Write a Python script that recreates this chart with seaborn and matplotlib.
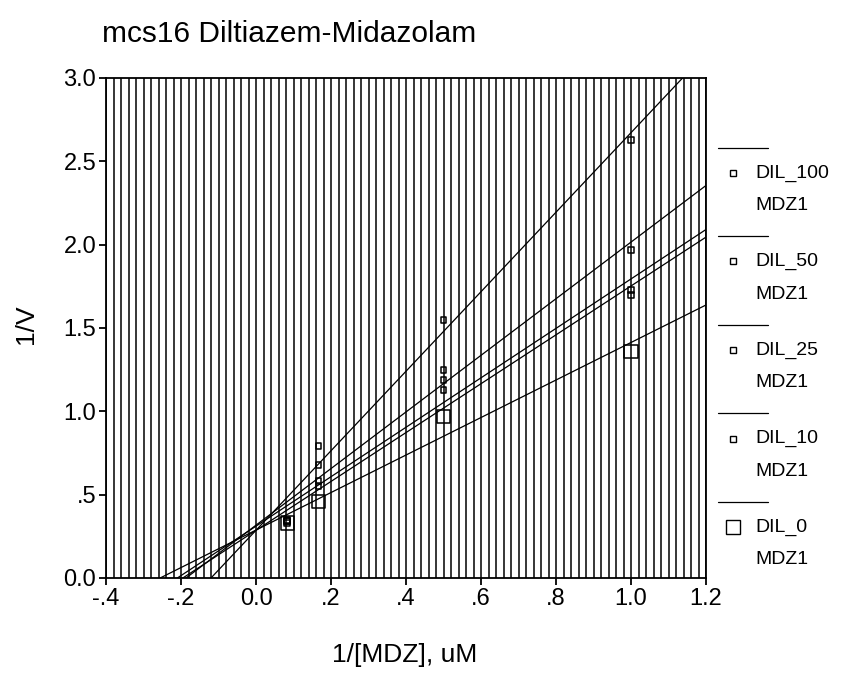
import numpy as np
import pandas as pd
import matplotlib
matplotlib.use("Agg")
import matplotlib.pyplot as plt
from matplotlib.lines import Line2D
from matplotlib.ticker import MultipleLocator
import seaborn as sns

# data
inv_mdz = [1 / 12, 1 / 6, 0.5, 1.0]
dil_100 = [0.35, 0.79, 1.55, 2.63]
dil_50 = [0.34, 0.68, 1.25, 1.97]
dil_25 = [0.34, 0.58, 1.19, 1.73]
dil_10 = [0.33, 0.55, 1.13, 1.70]
dil_0 = [0.33, 0.46, 0.97, 1.36]

series_names = ["DIL_100", "DIL_50", "DIL_25", "DIL_10", "DIL_0"]
series_values = [dil_100, dil_50, dil_25, dil_10, dil_0]
marker_sizes = [18, 18, 18, 18, 90]

x_ticks = [-0.4, -0.2, 0.0, 0.2, 0.4, 0.6, 0.8, 1.0, 1.2]
x_tick_labels = ["-.4", "-.2", "0.0", ".2", ".4", ".6", ".8", "1.0", "1.2"]
y_ticks = [0.0, 0.5, 1.0, 1.5, 2.0, 2.5, 3.0]
y_tick_labels = ["0.0", ".5", "1.0", "1.5", "2.0", "2.5", "3.0"]

sns.set_style("ticks")
plt.rcParams["font.family"] = ["Liberation Sans", "DejaVu Sans"]
plt.rcParams["text.color"] = "black"
plt.rcParams["xtick.color"] = "black"
plt.rcParams["ytick.color"] = "black"

fig = plt.figure(figsize=(8.43, 6.81), dpi=100)
ax = fig.add_axes([106 / 843, 1 - 578 / 681, 600 / 843, 500 / 681])

ax.set_xlim(-0.4, 1.2)
ax.set_ylim(0, 3)

# dense vertical grid every 0.02
ax.xaxis.set_minor_locator(MultipleLocator(0.02))
ax.grid(which="both", axis="x", color="black", linewidth=1.1)
ax.grid(which="both", axis="y", visible=False)
ax.tick_params(which="minor", length=0)

for name, vals, s in zip(series_names, series_values, marker_sizes):
    df = pd.DataFrame({"x": inv_mdz, "y": vals})
    sns.regplot(data=df, x="x", y="y", ax=ax, ci=None, truncate=False,
                marker="s", color="black",
                scatter_kws={"s": s, "facecolors": "none", "edgecolors": "black",
                             "linewidths": 1.1, "alpha": 1, "zorder": 4},
                line_kws={"linewidth": 0.9, "zorder": 3})

ax.set_xlim(-0.4, 1.2)
ax.set_ylim(0, 3)
ax.set_xticks(x_ticks)
ax.set_xticklabels(x_tick_labels)
ax.set_yticks(y_ticks)
ax.set_yticklabels(y_tick_labels)
ax.tick_params(which="major", labelsize=17, length=5, width=1.3, pad=2)
for sp in ax.spines.values():
    sp.set_color("black")
    sp.set_linewidth(1.3)

ax.set_xlabel("")
ax.set_ylabel("")
fig.text(405 / 843, 1 - 655 / 681, "1/[MDZ], uM", fontsize=19, ha="center", va="center")
fig.text(26 / 843, 1 - 324 / 681, "1/V", fontsize=19, ha="center", va="center", rotation=90)
fig.text(102 / 843, 1 - 42 / 681, "mcs16 Diltiazem-Midazolam", fontsize=21.5,
         ha="left", va="baseline")

# legend on the right: separator line, marker and two-line label per series
for i, (name, s) in enumerate(zip(series_names, marker_sizes)):
    y0 = 1 - (148 + i * 88.5) / 681
    fig.add_artist(Line2D([718 / 843, 768 / 843], [y0, y0], color="black", linewidth=0.9))
    ms = 4.5 if s < 50 else 10
    fig.add_artist(Line2D([733 / 843], [y0 - 25 / 681], marker="s", markersize=ms,
                          markerfacecolor="none", markeredgecolor="black",
                          markeredgewidth=1.0, linestyle="none"))
    fig.text(755 / 843, y0 - 25 / 681, name, fontsize=14, ha="left", va="center")
    fig.text(755 / 843, y0 - 58 / 681, "MDZ1", fontsize=14, ha="left", va="center")

fig.savefig("out.png", dpi=100)
